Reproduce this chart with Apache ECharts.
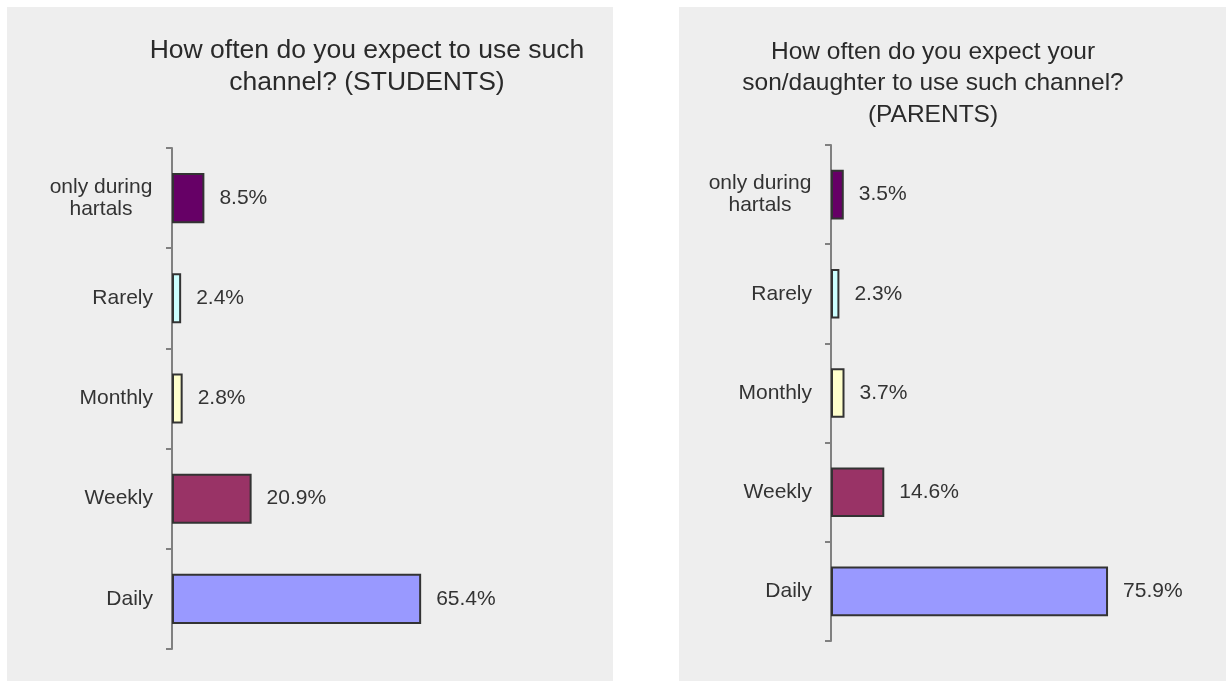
<!DOCTYPE html>
<html>
<head>
<meta charset="utf-8">
<script src="https://cdn.jsdelivr.net/npm/echarts@6/dist/echarts.min.js"></script>
<style>
html,body{margin:0;padding:0;background:#ffffff;}
#chart{width:1226px;height:681px;}
</style>
</head>
<body>
<div id="chart"></div>
<script>
const categories = ['only during hartals', 'Rarely', 'Monthly', 'Weekly', 'Daily'];
const studentValues = [8.5, 2.4, 2.8, 20.9, 65.4];
const parentValues = [3.5, 2.3, 3.7, 14.6, 75.9];
const titleStudents = 'How often do you expect to use such\nchannel? (STUDENTS)';
const titleParents = 'How often do you expect your\nson/daughter to use such channel?\n(PARENTS)';
const barColors = ['#660066', '#CCFFFF', '#FFFFCC', '#993366', '#9999FF'];

const FONT = '"Liberation Sans", Arial, sans-serif';
const TXT = '#333333';

function barData(vals) {
  return vals.map((v, i) => ({ value: v, itemStyle: { color: barColors[i] } }));
}

function yAxisCfg(gridIndex) {
  return {
    type: 'category',
    gridIndex: gridIndex,
    data: categories,
    inverse: true,
    axisLine: { show: true, lineStyle: { color: '#808080', width: 2 } },
    axisTick: { show: true, length: 6, lineStyle: { color: '#808080', width: 2 } },
    axisLabel: {
      margin: 19,
      color: TXT,
      fontFamily: FONT,
      fontSize: 21,
      lineHeight: 22,
      formatter: function (v) {
        if (v === 'only during hartals') return '{c|only during}\n{c|hartals}';
        return v;
      },
      rich: {
        c: { width: 104, align: 'center', color: TXT, fontFamily: FONT, fontSize: 21, lineHeight: 22 }
      }
    },
    splitLine: { show: false }
  };
}

function xAxisCfg(gridIndex, max) {
  return {
    type: 'value', gridIndex: gridIndex, min: 0, max: max,
    show: false, splitLine: { show: false }
  };
}

function seriesCfg(idx, vals) {
  return {
    type: 'bar',
    xAxisIndex: idx, yAxisIndex: idx,
    data: barData(vals),
    barWidth: '50%',
    itemStyle: { borderColor: '#333333', borderWidth: 2 },
    label: {
      show: true, position: 'right', distance: 15,
      color: TXT, fontFamily: FONT, fontSize: 21,
      formatter: p => p.value.toFixed(1) + '%'
    },
    animation: false
  };
}

const chart = echarts.init(document.getElementById('chart'), null, { renderer: 'canvas' });
chart.setOption({
  backgroundColor: '#ffffff',
  animation: false,
  graphic: [
    { type: 'rect', z: -10, shape: { x: 7, y: 7, width: 606, height: 674 }, style: { fill: '#eeeeee' } },
    { type: 'rect', z: -10, shape: { x: 679, y: 7, width: 547, height: 674 }, style: { fill: '#eeeeee' } }
  ],
  title: [
    { text: titleStudents, left: 367, top: 35, textAlign: 'center', padding: 0,
      textStyle: { color: '#2a2a2a', fontFamily: FONT, fontSize: 26.5, fontWeight: 'normal', lineHeight: 31.5 } },
    { text: titleParents, left: 933, top: 36, textAlign: 'center', padding: 0,
      textStyle: { color: '#2a2a2a', fontFamily: FONT, fontSize: 24.5, fontWeight: 'normal', lineHeight: 31.5 } }
  ],
  grid: [
    { left: 172, top: 148, width: 400, height: 501, containLabel: false },
    { left: 831, top: 145, width: 365, height: 496, containLabel: false }
  ],
  xAxis: [xAxisCfg(0, 105), xAxisCfg(1, 100)],
  yAxis: [yAxisCfg(0), yAxisCfg(1)],
  series: [seriesCfg(0, studentValues), seriesCfg(1, parentValues)]
});
</script>
</body>
</html>
